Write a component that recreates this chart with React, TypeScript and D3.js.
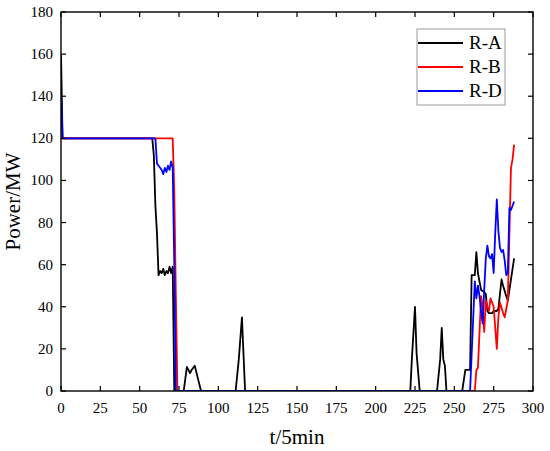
import * as d3 from "d3";

// points as [t, MW]
const seriesA: [number, number][] = [
  [0, 160], [1, 120], [58, 120], [59, 112], [60, 88], [61, 75], [62, 55], [63, 57], [64, 56],
  [65, 58], [66, 55], [67, 57], [68, 56], [69, 59], [70, 56], [71, 59], [72, 0], [78, 0],
  [80, 11.5], [82, 8.5], [83, 10], [85, 12], [87, 6], [89, 0], [111, 0], [113, 15], [115, 35],
  [117, 0], [222, 0], [223, 15], [225, 40], [226, 18], [228, 0], [239, 0], [241, 15], [242, 30],
  [243, 15], [244, 12], [245, 0], [255, 0], [257, 10], [260, 10], [261, 55], [263, 55], [264, 66],
  [265, 56], [267, 48], [269, 47], [270, 46], [271, 38], [272, 37], [274, 37], [275, 38],
  [277, 38], [278, 39], [280, 53], [281, 50], [283, 45], [284, 43], [288, 63],
];
const seriesB: [number, number][] = [
  [0, 120], [71, 120], [72, 95], [73, 45], [74, 0], [263, 0], [264, 10], [265, 11], [267, 45],
  [268, 40], [269, 28], [270, 43], [271, 40], [272, 38], [273, 44], [275, 40], [276, 30],
  [277, 20], [278, 35], [279, 42], [281, 37], [282, 35], [284, 43], [286, 106], [287, 110],
  [288, 117],
];
const seriesD: [number, number][] = [
  [0, 140], [1, 120], [60, 120], [61, 108], [62, 107], [63, 106], [64, 105], [65, 103],
  [66, 106], [67, 104], [68, 107], [69, 105], [70, 109], [71, 106], [72, 60], [73, 0], [260, 0],
  [263, 52], [264, 44], [265, 50], [266, 45], [267, 38], [268, 32], [269, 48], [270, 63],
  [271, 69], [272, 64], [273, 63], [274, 65], [275, 56], [276, 75], [277, 91], [278, 76],
  [279, 68], [280, 66], [281, 67], [282, 62], [283, 55], [284, 56], [285, 87], [286, 86],
  [287, 88], [288, 90],
];

const names = ["R-A", "R-B", "R-D"];
const colors = ["#000000", "#ff0000", "#0000ff"];
const xTicks = [0, 25, 50, 75, 100, 125, 150, 175, 200, 225, 250, 275, 300];
const yTicks = [0, 20, 40, 60, 80, 100, 120, 140, 160, 180];

export default function App() {
  const left = 61, right = 533, top = 12, bottom = 391;
  const x = d3.scaleLinear().domain([0, 300]).range([left, right]);
  const y = d3.scaleLinear().domain([0, 180]).range([bottom, top]);
  const line = d3.line<[number, number]>().x((d) => x(d[0])).y((d) => y(d[1]));
  const all = [seriesA, seriesB, seriesD];
  const tl = 5;

  return (
    <div style={{ position: "absolute", top: 0, left: 0 }}>
      <svg width={550} height={451} style={{ display: "block", background: "#fff", fontFamily: "'Liberation Serif', serif" }}>
        <defs>
          <clipPath id="plot">
            <rect x={left} y={top} width={right - left} height={bottom - top} />
          </clipPath>
        </defs>

        {/* data lines */}
        <g clipPath="url(#plot)">
          {all.map((s, i) => (
            <path key={i} d={line(s) ?? ""} fill="none" stroke={colors[i]} strokeWidth={1.8} strokeLinejoin="round" />
          ))}
        </g>

        {/* ticks, inward on all sides */}
        {xTicks.map((t) => (
          <g key={"x" + t}>
            <line x1={x(t)} x2={x(t)} y1={bottom} y2={bottom - tl} stroke="#000" strokeWidth={1.2} />
            <line x1={x(t)} x2={x(t)} y1={top} y2={top + tl} stroke="#000" strokeWidth={1.2} />
            <text x={x(t)} y={413} fontSize={15} textAnchor="middle">{t}</text>
          </g>
        ))}
        {yTicks.map((t) => (
          <g key={"y" + t}>
            <line x1={left} x2={left + tl} y1={y(t)} y2={y(t)} stroke="#000" strokeWidth={1.2} />
            <line x1={right} x2={right - tl} y1={y(t)} y2={y(t)} stroke="#000" strokeWidth={1.2} />
            <text x={53} y={y(t) + 5} fontSize={15} textAnchor="end">{t}</text>
          </g>
        ))}

        <rect x={left} y={top} width={right - left} height={bottom - top} fill="none" stroke="#000" strokeWidth={1.4} />

        {/* axis titles */}
        <text x={(left + right) / 2} y={444} fontSize={21} textAnchor="middle">t/5min</text>
        <text transform={`translate(20,${(top + bottom) / 2}) rotate(-90)`} fontSize={21} textAnchor="middle">Power/MW</text>

        {/* legend */}
        <rect x={417} y={29} width={88} height={76} fill="#fff" stroke="#999" strokeWidth={1} />
        {names.map((n, i) => (
          <g key={n}>
            <line x1={418} x2={463} y1={43 + i * 24} y2={43 + i * 24} stroke={colors[i]} strokeWidth={1.8} />
            <text x={469} y={43 + i * 24 + 6} fontSize={19}>{n}</text>
          </g>
        ))}
      </svg>
    </div>
  );
}
